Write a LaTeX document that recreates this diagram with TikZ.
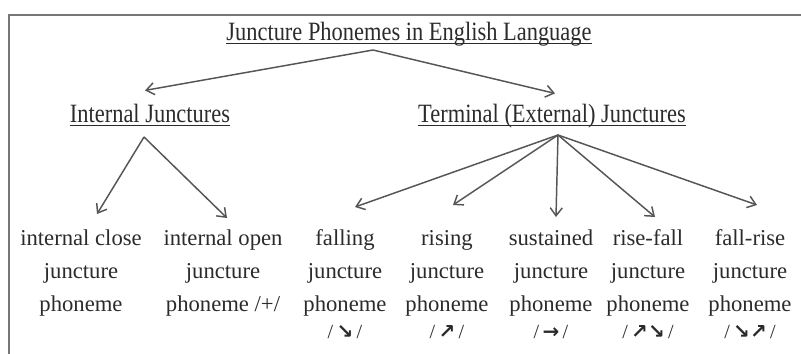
\documentclass[tikz,border=0pt]{standalone}
\usepackage{fontspec}
\setmainfont{Liberation Serif}
\newfontfamily\headfont[FakeStretch=0.85]{Liberation Serif}
\newfontfamily\arrowfont{DejaVu Sans Bold}
\usetikzlibrary{arrows.meta}

\definecolor{textgray}{HTML}{2B2B2B}
\definecolor{linegray}{HTML}{555555}
\definecolor{framegray}{HTML}{777777}

\newcommand{\tonemark}[1]{{\fontsize{15}{15}\selectfont /\,{\arrowfont #1}\,/}}

\begin{document}
\begin{tikzpicture}[x=0.75pt, y=-0.75pt,
    head/.style={anchor=base, inner sep=0pt, text=textgray,
        font=\headfont\fontsize{19.8}{22}\selectfont},
    leaf/.style={anchor=north, inner sep=0pt, align=center, text=textgray,
        font=\fontsize{17}{24.75}\selectfont},
    uline/.style={draw=textgray, line width=0.8pt},
    link/.style={draw=linegray, line width=1.1pt,
        -{Straight Barb[length=6pt,width=9pt]}}]
    % -----------------------------------------------------
    % 0) Marco (solo arriba e izquierda)
    % -----------------------------------------------------
    \useasboundingbox (0,0) rectangle (801,354);
    \draw[framegray, line width=1.5pt] (9,354) -- (9,15) -- (801,15);

    % -----------------------------------------------------
    % 1) Titulo y las dos ramas
    % -----------------------------------------------------
    \node[head] (title) at (409,40) {Juncture Phonemes in English Language};
    \draw[uline] ([yshift=-2.5pt]title.base west) -- ([yshift=-2.5pt]title.base east);

    \node[head] (internal) at (150,122) {Internal Junctures};
    \draw[uline] ([yshift=-2.5pt]internal.base west) -- ([yshift=-2.5pt]internal.base east);

    \node[head] (terminal) at (552,122) {Terminal (External) Junctures};
    \draw[uline] ([yshift=-2.5pt]terminal.base west) -- ([yshift=-2.5pt]terminal.base east);

    \coordinate (tsplit) at (373,50);
    \draw[link] (tsplit) -- ([shift={(-5,-13)}]internal.north);
    \draw[link] (tsplit) -- ([shift={(3,-10)}]terminal.north);

    % -----------------------------------------------------
    % 2) Junturas internas
    % -----------------------------------------------------
    \node[leaf] (close) at (81,222) {\strut internal close\\juncture\\phoneme};
    \node[leaf] (open) at (223,222) {\strut internal open\\juncture\\phoneme /+/};

    \coordinate (iapex) at (144,137);
    \draw[link] (iapex) -- ([shift={(16,-8)}]close.north);
    \draw[link] (iapex) -- ([shift={(4,-4)}]open.north);

    % -----------------------------------------------------
    % 3) Junturas terminales
    % -----------------------------------------------------
    \node[leaf] (falling) at (345,222) {\strut falling\\juncture\\phoneme\\[-4.5pt]\tonemark{↘}};
    \node[leaf] (rising) at (447,222) {\strut rising\\juncture\\phoneme\\[-4.5pt]\tonemark{↗}};
    \node[leaf] (sustained) at (551,222) {\strut sustained\\juncture\\phoneme\\[-4.5pt]\tonemark{→}};
    \node[leaf] (risefall) at (648,222) {\strut rise-fall\\juncture\\phoneme\\[-4.5pt]\tonemark{↗↘}};
    \node[leaf] (fallrise) at (750,222) {\strut fall-rise\\juncture\\phoneme\\[-4.5pt]\tonemark{↘↗}};

    \coordinate (tapex) at (558,135);
    \draw[link] (tapex) -- ([shift={(10,-15)}]falling.north);
    \draw[link] (tapex) -- ([shift={(6,-17)}]rising.north);
    \draw[link] (tapex) -- ([shift={(5,-5)}]sustained.north);
    \draw[link] (tapex) -- ([shift={(7,-5)}]risefall.north);
    \draw[link] (tapex) -- ([shift={(7,-17)}]fallrise.north);
\end{tikzpicture}
\end{document}
